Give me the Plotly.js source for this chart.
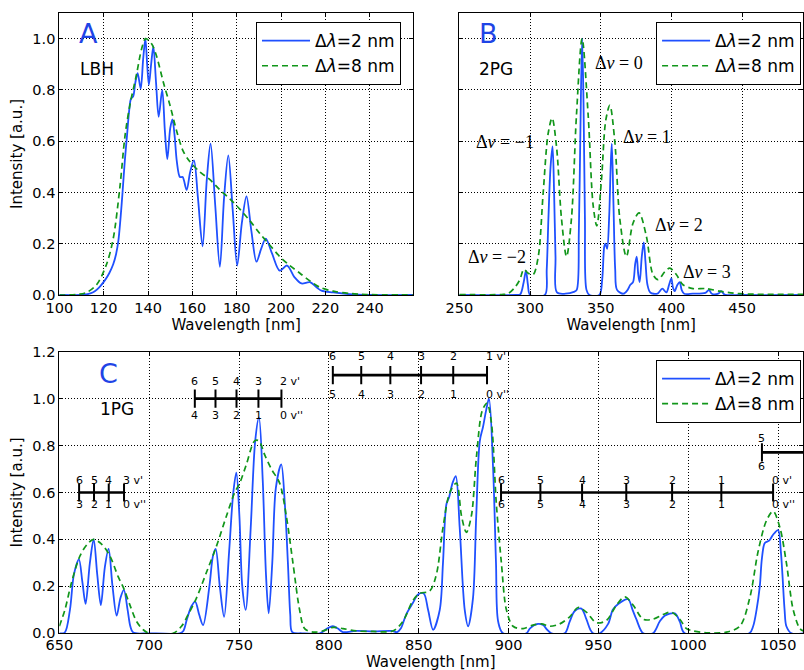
<!DOCTYPE html>
<html>
<head>
<meta charset="utf-8">
<script src="https://cdn.plot.ly/plotly-3.0.1.min.js"></script>
<style>html,body{margin:0;padding:0;background:#fff;}#plot{width:804px;height:670px;}</style>
</head>
<body>
<div id="plot"></div>
<script>
// ---------- Panel A : LBH ----------
const A_wl_2 = [100,110,112,114,116,118,120.6,122.5,124.3,125.6,126.6,127.5,128.5,129.5,130.5,131.5,132.3,133.3,134.3,135.3,136.7,137.8,138.8,139.6,140.4,141.4,142.4,143.6,144.8,146.4,147.6,148.7,150,151,152,153,154.4,155.6,157.4,159,160.7,162.5,164.6,166.5,168.2,170.3,172.4,174.3,176.2,178.2,180.2,182.3,184.4,186.6,188.9,191,193.1,196,199.4,202.7,206,209.2,213,216,218.2,223.5,231,240,260];
const A_int_2 = [0,0,0.002,0.006,0.015,0.03,0.058,0.085,0.12,0.16,0.21,0.29,0.40,0.52,0.62,0.72,0.765,0.775,0.83,0.865,0.805,0.92,1.0,0.9,0.82,0.9,0.97,0.83,0.695,0.80,0.64,0.53,0.65,0.685,0.62,0.52,0.46,0.46,0.41,0.48,0.525,0.38,0.19,0.45,0.59,0.35,0.11,0.38,0.545,0.33,0.115,0.28,0.385,0.25,0.13,0.18,0.22,0.16,0.095,0.115,0.07,0.045,0.05,0.03,0.017,0.01,0.003,0,0];
const A_wl_8 = [100,108,112.3,116.8,121.3,124.3,127.3,129.6,131.8,134.8,137.1,138.9,141.6,143.9,146.9,149.9,152.9,155.9,158.9,163.4,167.9,172.4,176.9,181.4,185.9,190.4,194.9,199.4,203.9,208.5,213,217.5,223.5,231,238.5,260];
const A_int_8 = [0,0.002,0.01,0.04,0.12,0.22,0.42,0.62,0.74,0.86,0.96,1.0,0.98,0.93,0.83,0.74,0.64,0.56,0.52,0.48,0.45,0.41,0.375,0.335,0.29,0.24,0.195,0.15,0.115,0.085,0.055,0.03,0.015,0.006,0.002,0];

// ---------- Panel B : 2PG ----------
const B_wl_2 = [250,290,293,295.5,297.1,298.5,300,310.5,311.8,313,314.5,315.9,317,318,319,325,331,333,334.5,335.5,336.8,337.8,338.8,339.9,342,349,351,352.5,353.3,354.5,355.9,357,357.8,359,360.2,361.5,366,369,370.9,372.8,374.3,375.4,376.5,377.5,379,380.4,381.6,383,385,390,393.5,396.4,398.3,399.9,401,402.2,404.2,405.8,407.2,409,415,424,426.5,428.5,433,435.2,437.5,450,493];
const B_int_2 = [0,0,0.002,0.05,0.095,0.04,0,0,0.1,0.3,0.5,0.58,0.4,0.15,0.01,0.005,0.012,0.02,0.25,0.6,1.0,0.75,0.3,0.02,0,0,0.06,0.19,0.2,0.18,0.3,0.5,0.59,0.35,0.1,0.02,0.005,0.02,0.04,0.05,0.12,0.15,0.08,0.05,0.15,0.205,0.13,0.04,0.01,0.005,0.025,0.01,0.04,0.065,0.03,0.015,0.04,0.05,0.02,0.005,0.005,0.008,0.02,0.005,0.005,0.015,0.002,0,0];
const B_wl_8 = [250,280,284.6,289.3,292.8,295.6,298.7,302.2,305.8,309.3,312.8,315.6,318.7,322.2,325.8,329.3,332.8,336.8,341.1,344.6,347.2,350.5,353.5,356.4,359.9,363.4,368.1,372.8,377.1,382.2,386.9,390.5,395.2,398.7,403.4,408.1,415.2,424.6,434,448,493];
const B_int_8 = [0.002,0.002,0.006,0.03,0.06,0.1,0.085,0.08,0.15,0.40,0.63,0.69,0.58,0.3,0.15,0.3,0.7,1.0,0.7,0.35,0.27,0.45,0.68,0.74,0.6,0.3,0.15,0.28,0.32,0.23,0.08,0.06,0.09,0.105,0.08,0.04,0.025,0.025,0.015,0.005,0.003];
const B_band_text = ["Δ<i>v</i> = −2","Δ<i>v</i> = −1","Δ<i>v</i> = 0","Δ<i>v</i> = 1","Δ<i>v</i> = 2","Δ<i>v</i> = 3"];
const B_band_wl = [276.4,282.2,363,382.7,405,425];
const B_band_int = [0.15,0.598,0.903,0.618,0.273,0.091];

// ---------- Panel C : 1PG ----------
const C_wl_2 = [650,653,655.9,658.1,660.9,662.8,664.6,667,669.1,671.1,673.1,675.3,677.4,679.6,681.9,684,685.9,688,689.5,691.1,700,717,719,721,723.5,725.6,727.8,730,733.5,735.5,737,739.3,741.7,744.5,746.8,748.5,750.2,751.8,753.7,756.5,759,761.1,763.2,765,766.5,768.5,770.5,773.5,775.5,777.2,778.5,779.6,785,795,799,802.2,805,807.8,815,825,835,838,840,843,846.8,849.6,852.8,855.2,858,861.7,863.5,865.4,866.9,868.8,870.6,872.8,875.6,877.5,880.2,882,884,885.8,887.5,889.1,891.4,893,894.2,896.9,910,911.8,916.4,919.2,921.5,923.8,931.3,934,936.8,940.5,943.3,945.5,947,950.7,955.4,958,961,966.5,969,971.1,974.9,980.4,984.1,986.9,992.5,995.3,998,1034,1036.1,1038,1039.8,1041,1042.6,1045,1047.2,1050,1051.5,1052.4,1053.6,1054.6,1057.4,1064];
const C_int_2 = [0,0.003,0.1,0.25,0.315,0.22,0.125,0.3,0.40,0.25,0.12,0.28,0.36,0.2,0.075,0.15,0.185,0.1,0.03,0.003,0,0,0.01,0.06,0.115,0.135,0.08,0.035,0.2,0.33,0.36,0.2,0.07,0.35,0.6,0.685,0.5,0.2,0.1,0.45,0.82,0.92,0.65,0.25,0.085,0.3,0.62,0.72,0.55,0.3,0.08,0.005,0,0,0.02,0.03,0.02,0.005,0.01,0.008,0.01,0.005,0.02,0.08,0.13,0.165,0.17,0.1,0.015,0.1,0.3,0.55,0.58,0.64,0.67,0.45,0.1,0.03,0.15,0.5,0.82,0.88,0.95,1.0,0.7,0.3,0.05,0,0,0.02,0.04,0.035,0.015,0,0,0.05,0.095,0.105,0.06,0.015,0,0,0.04,0.1,0.125,0.145,0.1,0.06,0,0,0.05,0.075,0.085,0.05,0,0,0.03,0.1,0.2,0.32,0.385,0.395,0.42,0.44,0.35,0.25,0.1,0.03,0,0];
const C_wl_8 = [650,653.1,656.9,661.5,665.6,669.1,673.5,678.1,682.8,685.9,689.3,693,696.7,700,713.3,718,721.7,726.3,731.9,737.4,743,747.6,750.4,754.1,758.7,761.1,764.3,768,772.6,776.3,780,783.7,786.5,791.1,796.7,802.2,807.8,815.2,824.4,835.6,841.1,846.8,850.6,856.1,859.8,863.5,867.3,871,873.8,876.5,879.3,882.1,885.4,888,890.4,893.2,896,898.8,902.5,908.1,913.6,918.3,922.9,928.5,934,938.7,943.3,948.9,954.5,960,964.7,969.3,974.9,980.4,986,990.6,995.3,999,1002.7,1010.1,1021.2,1028.7,1034.2,1038.9,1043.5,1047.2,1051,1054.6,1058.4,1062.1,1064];
const C_int_8 = [0.03,0.1,0.22,0.33,0.38,0.40,0.38,0.33,0.24,0.19,0.12,0.05,0.015,0,0,0.03,0.08,0.15,0.26,0.37,0.5,0.6,0.64,0.72,0.82,0.82,0.76,0.7,0.64,0.5,0.3,0.1,0.02,0.005,0.01,0.025,0.02,0.01,0.008,0.01,0.05,0.14,0.17,0.18,0.25,0.45,0.6,0.64,0.5,0.43,0.5,0.75,0.95,0.98,0.9,0.55,0.3,0.1,0.03,0.02,0.035,0.04,0.03,0.04,0.07,0.11,0.09,0.045,0.055,0.12,0.155,0.12,0.06,0.06,0.08,0.09,0.06,0.02,0.01,0.002,0.005,0.03,0.15,0.35,0.48,0.52,0.45,0.3,0.1,0.02,0.01];

// band-head systems (v' above, v'' below)
const band1_wl = [661,669.3,677.5,686];        const band1_level = 0.6;
const band1_vup = ["6","5","4","3"];             const band1_vlow = ["3","2","1","0"];
const band2_wl = [725.4,736.9,748.6,760.8,773.6]; const band2_level = 1.0;
const band2_vup = ["6","5","4","3","2"];         const band2_vlow = ["4","3","2","1","0"];
const band3_wl = [802.2,818,834.2,851.3,869.2,888]; const band3_level = 1.1;
const band3_vup = ["6","5","4","3","2","1"];     const band3_vlow = ["5","4","3","2","1","0"];
const band4_wl = [895.8,917.7,940.9,965.5,991,1018.4,1047.2]; const band4_level = 0.6;
const band4_vup = ["6","5","4","3","2","1","0"]; const band4_vlow = ["6","5","4","3","2","1","0"];
const band5_wl = [1041,1080];                    const band5_level = 0.771;
const band5_vup = ["5",""];                      const band5_vlow = ["6",""];

const legendNames = ["Δ<i>λ</i>=2 nm","Δ<i>λ</i>=8 nm"];
const xTitle = 'Wavelength [nm]', yTitle = 'Intensity [a.u.]';

// ---------- styles ----------
const BLUE = '#1f50ff', GREEN = '#11961a', PANEL_BLUE = '#1f44e6';
const FONT = 'DejaVu Sans, sans-serif';
const blueLine = {color: BLUE, width: 1.8, shape: 'spline', smoothing: 0.9};
const greenLine = {color: GREEN, width: 1.7, dash: '6px,4px', shape: 'spline', smoothing: 0.9};

const traces = [];
function addPair(wl2, i2, wl8, i8, xa, ya, leg) {
  traces.push({x: wl2, y: i2, xaxis: xa, yaxis: ya, mode: 'lines', line: blueLine, name: legendNames[0], legend: leg, hoverinfo: 'skip'});
  traces.push({x: wl8, y: i8, xaxis: xa, yaxis: ya, mode: 'lines', line: greenLine, name: legendNames[1], legend: leg, hoverinfo: 'skip'});
}
addPair(A_wl_2, A_int_2, A_wl_8, A_int_8, 'x', 'y', 'legend');
addPair(B_wl_2, B_int_2, B_wl_8, B_int_8, 'x2', 'y2', 'legend2');
addPair(C_wl_2, C_int_2, C_wl_8, C_int_8, 'x3', 'y3', 'legend3');

const annotations = [];
const bands = [
  [band1_wl, band1_level, band1_vup, band1_vlow, 12],
  [band2_wl, band2_level, band2_vup, band2_vlow, 17],
  [band3_wl, band3_level, band3_vup, band3_vlow, 19],
  [band4_wl, band4_level, band4_vup, band4_vlow, 12],
  [band5_wl, band5_level, band5_vup, band5_vlow, 14]
];
bands.forEach(([wl, lev, up, low, off]) => {
  traces.push({x: wl, y: wl.map(() => lev), xaxis: 'x3', yaxis: 'y3', mode: 'lines+markers',
    line: {color: 'black', width: 2.6}, marker: {symbol: 'line-ns-open', size: 13, line: {color: 'black', width: 2}},
    showlegend: false, hoverinfo: 'skip', cliponaxis: true});
  wl.forEach((w, i) => {
    const last = (i === wl.length - 1) && up[i] !== '';
    if (up[i] !== '') annotations.push({x: w, y: lev, xref: 'x3', yref: 'y3', showarrow: false, yshift: off,
      text: last ? up[i] + " v'" : up[i], xanchor: last ? 'left' : 'center', xshift: last ? -3.5 : 0,
      font: {family: FONT, size: 11, color: 'black'}});
    if (low[i] !== '') annotations.push({x: w, y: lev, xref: 'x3', yref: 'y3', showarrow: false, yshift: -off,
      text: last ? low[i] + " v''" : low[i], xanchor: last ? 'left' : 'center', xshift: last ? -3.5 : 0,
      font: {family: FONT, size: 11, color: 'black'}});
  });
});

// Δv labels in panel B
B_band_text.forEach((t, i) => annotations.push({x: B_band_wl[i], y: B_band_int[i], xref: 'x2', yref: 'y2', text: t,
  showarrow: false, font: {family: 'Liberation Serif, serif', size: 18, color: 'black'}}));

// panel letters and names
annotations.push({x: 113, y: 1.02, xref: 'x', yref: 'y', text: 'A', showarrow: false, font: {family: FONT, size: 27, color: PANEL_BLUE}});
annotations.push({x: 108.2, y: 0.88, xref: 'x', yref: 'y', text: 'LBH', xanchor: 'left', showarrow: false, font: {family: FONT, size: 17, color: 'black'}});
annotations.push({x: 270.3, y: 1.02, xref: 'x2', yref: 'y2', text: 'B', showarrow: false, font: {family: FONT, size: 27, color: PANEL_BLUE}});
annotations.push({x: 262.7, y: 0.88, xref: 'x2', yref: 'y2', text: '2PG', xanchor: 'left', showarrow: false, font: {family: FONT, size: 17, color: 'black'}});
annotations.push({x: 677.1, y: 1.108, xref: 'x3', yref: 'y3', text: 'C', showarrow: false, font: {family: FONT, size: 27, color: PANEL_BLUE}});
annotations.push({x: 671.6, y: 0.955, xref: 'x3', yref: 'y3', text: '1PG', xanchor: 'left', showarrow: false, font: {family: FONT, size: 17, color: 'black'}});
// bottom x-axis title of panel C, pinned to the figure's bottom edge
annotations.push({x: 0.5, xref: 'x3 domain', y: 0, yref: 'paper', yanchor: 'bottom', yshift: -3, text: xTitle,
  showarrow: false, font: {family: FONT, size: 15, color: 'black'}});

const axBase = {showline: true, linecolor: 'black', linewidth: 1, mirror: 'ticks', ticks: 'inside', ticklen: 4,
  tickcolor: 'black', showgrid: true, gridcolor: 'black', gridwidth: 1, griddash: '1px,2px', zeroline: false,
  tickfont: {family: FONT, size: 14.5, color: 'black'}, automargin: false};
const xt = {text: xTitle, font: {family: FONT, size: 15, color: 'black'}, standoff: 4};
const yt = {text: yTitle, font: {family: FONT, size: 15, color: 'black'}, standoff: 6};

const legBase = {bgcolor: 'white', bordercolor: 'black', borderwidth: 1, font: {family: FONT, size: 17, color: 'black'},
  xanchor: 'left', yanchor: 'top', itemwidth: 48, tracegroupgap: 0};

const layout = {
  width: 804, height: 670, margin: {l: 0, r: 0, t: 0, b: 0}, paper_bgcolor: 'white', plot_bgcolor: 'white',
  font: {family: FONT, color: 'black'},
  xaxis: Object.assign({}, axBase, {domain: [0.0738, 0.5137], range: [100, 259.5], tickvals: [100,120,140,160,180,200,220,240], anchor: 'y', title: xt}),
  yaxis: Object.assign({}, axBase, {domain: [0.5597, 0.9806], range: [0, 1.1], tickvals: [0,0.2,0.4,0.6,0.8,1.0], tickformat: '.1f', anchor: 'x', title: yt}),
  xaxis2: Object.assign({}, axBase, {domain: [0.5713, 0.9988], range: [250, 493], tickvals: [250,300,350,400,450], anchor: 'y2', title: xt}),
  yaxis2: Object.assign({}, axBase, {domain: [0.5597, 0.9806], range: [0, 1.1], tickvals: [0,0.2,0.4,0.6,0.8,1.0], showticklabels: false, anchor: 'x2'}),
  xaxis3: Object.assign({}, axBase, {domain: [0.0738, 0.9991], range: [650, 1064], tickvals: [650,700,750,800,850,900,950,1000,1050], anchor: 'y3', ticklabelstandoff: -2}),
  yaxis3: Object.assign({}, axBase, {domain: [0.0548, 0.4751], range: [0, 1.2], tickvals: [0,0.2,0.4,0.6,0.8,1.0,1.2], tickformat: '.1f', anchor: 'x3', title: yt}),
  legend: Object.assign({}, legBase, {x: 0.3184, y: 0.967}),
  legend2: Object.assign({}, legBase, {x: 0.816, y: 0.967}),
  legend3: Object.assign({}, legBase, {x: 0.816, y: 0.4627}),
  annotations: annotations,
  showlegend: true
};

Plotly.newPlot('plot', traces, layout, {displayModeBar: false, staticPlot: true});
</script>
</body>
</html>
